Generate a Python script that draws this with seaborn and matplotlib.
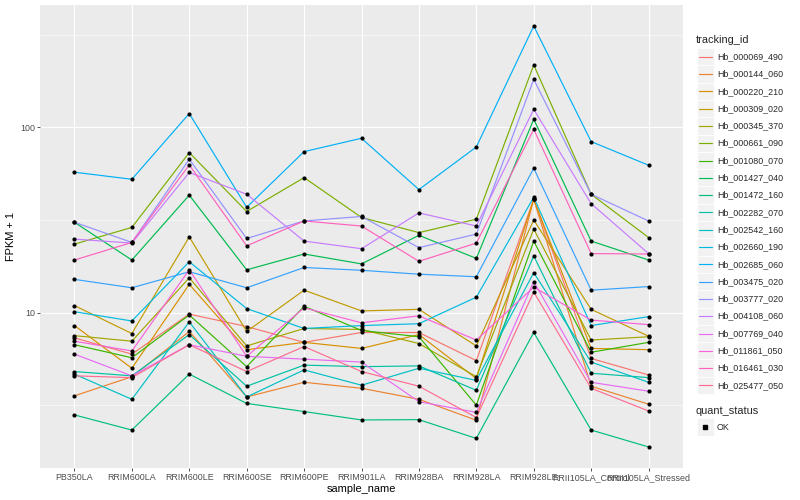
import matplotlib
matplotlib.use("Agg")
import matplotlib.pyplot as plt
from matplotlib.patches import Rectangle
from matplotlib.lines import Line2D
import numpy as np
import pandas as pd
import seaborn as sns

samples = ["PB350LA", "RRIM600LA", "RRIM600LE", "RRIM600SE", "RRIM600PE", "RRIM901LA",
           "RRIM928BA", "RRIM928LA", "RRIM928LE", "RRII105LA_Control", "RRII105LA_Stressed"]

tracking_ids = ["Hb_000069_490", "Hb_000144_060", "Hb_000220_210", "Hb_000309_020",
                "Hb_000345_370", "Hb_000661_090", "Hb_001080_070", "Hb_001427_040",
                "Hb_001472_160", "Hb_002282_070", "Hb_002542_160", "Hb_002660_190",
                "Hb_002685_060", "Hb_003475_020", "Hb_003777_020", "Hb_004108_060",
                "Hb_007769_040", "Hb_011861_050", "Hb_016461_030", "Hb_025477_050"]

# FPKM + 1 (one list per gene, in sample order)
hb_000069_490 = [7.3, 5.96, 9.8, 8.4, 6.9, 7.8, 7.8, 5.5, 40.9, 5.65, 4.6]
hb_000144_060 = [3.55, 4.5, 7.9, 3.5, 4.2, 3.9, 3.4, 2.62, 40.9, 4.0, 3.2]
hb_000220_210 = [8.5, 5.0, 14.2, 6.3, 6.9, 6.4, 7.6, 4.4, 40.9, 6.4, 6.3]
hb_000309_020 = [10.9, 7.7, 25.6, 7.9, 13.2, 10.2, 10.4, 6.6, 31.6, 10.4, 7.45]
hb_000345_370 = [7.5, 7.0, 15.4, 6.6, 8.2, 8.1, 6.8, 4.5, 28.2, 7.1, 7.4]
hb_000661_090 = [23.4, 28.8, 73.0, 35.1, 53.5, 32.6, 27.0, 31.9, 217, 43.5, 25.4]
hb_001080_070 = [6.7, 5.7, 9.7, 5.1, 10.8, 8.0, 7.4, 3.16, 24.3, 6.1, 6.9]
hb_001427_040 = [30.7, 19.2, 43.0, 17.0, 20.7, 18.3, 26.1, 19.6, 110.5, 24.3, 19.2]
hb_001472_160 = [2.80, 2.32, 4.65, 3.23, 2.92, 2.63, 2.64, 2.09, 7.80, 2.32, 1.88]
hb_002282_070 = [4.8, 4.55, 7.6, 4.0, 5.2, 5.1, 5.15, 3.8, 20.2, 4.7, 4.45]
hb_002542_160 = [4.65, 3.4, 8.9, 3.5, 4.9, 4.05, 5.0, 4.3, 16.4, 5.4, 4.2]
hb_002660_190 = [10.1, 9.0, 18.8, 10.5, 8.2, 8.5, 8.7, 12.1, 41.9, 8.5, 9.5]
hb_002685_060 = [57.2, 52.4, 118.6, 37.0, 73.9, 87.2, 46.1, 78.3, 352, 83.7, 62.4]
hb_003475_020 = [15.1, 13.6, 16.6, 13.6, 17.5, 16.9, 16.1, 15.6, 60.1, 13.2, 13.8]
hb_003777_020 = [30.7, 23.9, 67.2, 25.1, 31.2, 33.0, 22.4, 26.5, 181.6, 43.5, 31.2]
hb_004108_060 = [24.9, 23.7, 57.0, 43.5, 24.3, 22.1, 34.5, 29.3, 125, 38.7, 20.8]
hb_007769_040 = [5.96, 4.55, 6.7, 5.8, 5.6, 5.4, 3.3, 2.89, 14.7, 4.2, 3.76]
hb_011861_050 = [7.0, 6.2, 17.0, 5.8, 10.6, 8.8, 9.6, 7.1, 13.7, 9.1, 8.6]
hb_016461_030 = [19.2, 23.9, 62.6, 22.9, 31.2, 29.3, 18.9, 23.7, 97.5, 20.8, 20.7]
hb_025477_050 = [4.55, 4.45, 6.7, 4.8, 6.55, 4.8, 4.0, 2.71, 12.9, 3.9, 2.94]

series = [hb_000069_490, hb_000144_060, hb_000220_210, hb_000309_020, hb_000345_370,
          hb_000661_090, hb_001080_070, hb_001427_040, hb_001472_160, hb_002282_070,
          hb_002542_160, hb_002660_190, hb_002685_060, hb_003475_020, hb_003777_020,
          hb_004108_060, hb_007769_040, hb_011861_050, hb_016461_030, hb_025477_050]

# ggplot2 default hue palette for 20 levels
palette = ["#F8766D", "#EA8331", "#D89000", "#C09B00", "#A3A500", "#7CAE00", "#39B600",
           "#00BB4E", "#00BF7D", "#00C1A3", "#00BFC4", "#00BAE0", "#00B0F6", "#35A2FF",
           "#9590FF", "#C77CFF", "#E76BF3", "#FA62DB", "#FF62BC", "#FF6C91"]

rows = []
for tid, vals in zip(tracking_ids, series):
    for i, (s, v) in enumerate(zip(samples, vals)):
        rows.append({"tracking_id": tid, "sample_name": s, "pos": i, "fpkm": v, "quant_status": "OK"})
df = pd.DataFrame(rows)

sns.set_theme(style="darkgrid")
plt.rcParams["font.family"] = ["Liberation Sans", "DejaVu Sans"]

fig = plt.figure(figsize=(8, 5), dpi=100)
ax = fig.add_axes([40 / 800, 32 / 500, 643 / 800, 463 / 500])
ax.set_facecolor("#EBEBEB")

sns.lineplot(data=df, x="pos", y="fpkm", hue="tracking_id", hue_order=tracking_ids,
             palette=palette, linewidth=0.85, legend=False, ax=ax, sort=False)
sns.scatterplot(data=df, x="pos", y="fpkm", color="black", s=9, marker="o",
                linewidth=0, legend=False, ax=ax, zorder=5)

ax.set_yscale("log")
lo, hi = np.log10(df["fpkm"].min()), np.log10(df["fpkm"].max())
pad = (hi - lo) * 0.05
ax.set_ylim(10 ** (lo - pad), 10 ** (hi + pad))
ax.set_xlim(-0.6, len(samples) - 0.4)

ax.set_xticks(range(len(samples)))
ax.set_xticklabels(samples)
ax.set_yticks([10, 100])
ax.set_yticklabels(["10", "100"])
ax.set_yticks([10 ** 0.5, 10 ** 1.5, 10 ** 2.5], minor=True)
ax.yaxis.set_minor_formatter(matplotlib.ticker.NullFormatter())

ax.grid(True, which="major", color="white", linewidth=0.85)
ax.grid(True, which="minor", axis="y", color="white", linewidth=0.4)
ax.tick_params(axis="both", which="major", length=2.2, width=0.6, color="#333333",
               labelsize=6.4, labelcolor="#4D4D4D", pad=1.5, bottom=True, left=True)
ax.tick_params(axis="y", which="minor", length=0)
for sp in ax.spines.values():
    sp.set_visible(False)

ax.set_xlabel("sample_name", fontsize=7.9, color="black", labelpad=1)
ax.set_ylabel("FPKM + 1", fontsize=7.9, color="black", labelpad=3)

# legend drawn in figure pixel coordinates, ggplot-style key boxes
def fx(px):
    return px / 800

def fy(py):
    return 1 - py / 500

fig.text(fx(696), fy(40), "tracking_id", fontsize=7.9, va="center", ha="left")
key_h = 17.3
y0 = 56.7
for i, (tid, col) in enumerate(zip(tracking_ids, palette)):
    yc = y0 + i * key_h
    fig.patches.append(Rectangle((fx(696.5), fy(yc + key_h / 2)), 17 / 800, key_h / 500,
                                 transform=fig.transFigure, facecolor="#F2F2F2",
                                 edgecolor="white", linewidth=0.6))
    fig.lines.append(Line2D([fx(698.5), fx(711.5)], [fy(yc), fy(yc)], color=col,
                            linewidth=0.85, transform=fig.transFigure))
    fig.text(fx(717), fy(yc), tid, fontsize=6.4, va="center", ha="left")

fig.text(fx(696), fy(411), "quant_status", fontsize=7.9, va="center", ha="left")
fig.patches.append(Rectangle((fx(696.5), fy(427 + key_h / 2)), 17 / 800, key_h / 500,
                             transform=fig.transFigure, facecolor="#F2F2F2",
                             edgecolor="white", linewidth=0.6))
fig.lines.append(Line2D([fx(705)], [fy(427)], marker="s", markersize=2.3, color="black",
                        linestyle="none", transform=fig.transFigure))
fig.text(fx(717), fy(427), "OK", fontsize=6.4, va="center", ha="left")

fig.savefig("out.png", dpi=100, facecolor="white")
